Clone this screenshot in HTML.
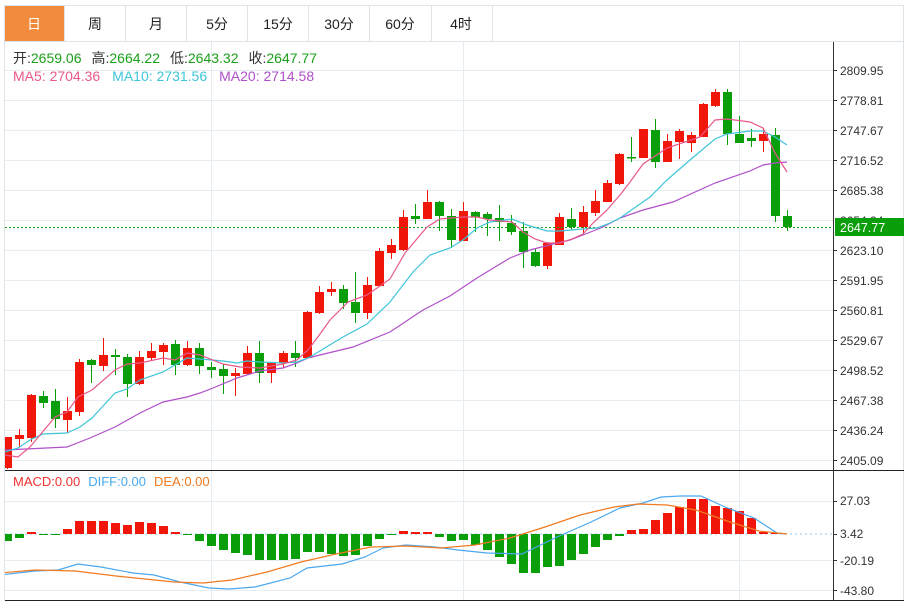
<!DOCTYPE html>
<html><head><meta charset="utf-8"><style>
body{margin:0;background:#fff;width:909px;height:603px;overflow:hidden;font-family:"Liberation Sans","Noto Sans CJK SC",sans-serif}
svg{position:absolute;left:0;top:0}
</style></head><body>
<svg width="909" height="603" viewBox="0 0 909 603" xmlns="http://www.w3.org/2000/svg" font-family="Liberation Sans, Noto Sans CJK SC, sans-serif">
<defs><clipPath id="c"><rect x="5" y="41" width="828" height="428"/></clipPath>
<clipPath id="m"><rect x="5" y="471" width="828" height="129"/></clipPath></defs>
<rect x="4.5" y="5.5" width="899" height="595" fill="none" stroke="#dde3e8"/>
<rect x="5" y="6" width="59" height="35" fill="#f28c3c"/>
<g stroke="#dde3e8"><line x1="64.5" y1="6" x2="64.5" y2="41"/><line x1="125.5" y1="6" x2="125.5" y2="41"/><line x1="186.5" y1="6" x2="186.5" y2="41"/><line x1="247.5" y1="6" x2="247.5" y2="41"/><line x1="308.5" y1="6" x2="308.5" y2="41"/><line x1="369.5" y1="6" x2="369.5" y2="41"/><line x1="431.5" y1="6" x2="431.5" y2="41"/><line x1="492.5" y1="6" x2="492.5" y2="41"/><line x1="5" y1="41.5" x2="904" y2="41.5"/></g>
<g font-size="14" text-anchor="middle" fill="#222"><text x="34" y="29" fill="#fff">日</text><text x="95" y="29">周</text><text x="156" y="29">月</text><text x="217" y="29">5分</text><text x="278" y="29">15分</text><text x="339" y="29">30分</text><text x="400" y="29">60分</text><text x="461" y="29">4时</text></g>
<g stroke="#e6ecf0"><line x1="5" y1="70.5" x2="833" y2="70.5"/><line x1="5" y1="100.5" x2="833" y2="100.5"/><line x1="5" y1="130.5" x2="833" y2="130.5"/><line x1="5" y1="160.5" x2="833" y2="160.5"/><line x1="5" y1="190.5" x2="833" y2="190.5"/><line x1="5" y1="220.5" x2="833" y2="220.5"/><line x1="5" y1="250.5" x2="833" y2="250.5"/><line x1="5" y1="280.5" x2="833" y2="280.5"/><line x1="5" y1="310.5" x2="833" y2="310.5"/><line x1="5" y1="340.5" x2="833" y2="340.5"/><line x1="5" y1="370.5" x2="833" y2="370.5"/><line x1="5" y1="400.5" x2="833" y2="400.5"/><line x1="5" y1="430.5" x2="833" y2="430.5"/><line x1="5" y1="460.5" x2="833" y2="460.5"/>
<line x1="211.5" y1="42" x2="211.5" y2="600"/><line x1="463.5" y1="42" x2="463.5" y2="600"/><line x1="739.5" y1="42" x2="739.5" y2="600"/>
<line x1="5" y1="501.5" x2="833" y2="501.5"/><line x1="5" y1="560.5" x2="833" y2="560.5"/><line x1="5" y1="590.5" x2="833" y2="590.5"/></g>
<g font-size="14"><text x="13" y="63"><tspan fill="#333">开:</tspan><tspan fill="#1aa01a">2659.06</tspan><tspan fill="#333" dx="10">高:</tspan><tspan fill="#1aa01a">2664.22</tspan><tspan fill="#333" dx="10">低:</tspan><tspan fill="#1aa01a">2643.32</tspan><tspan fill="#333" dx="10">收:</tspan><tspan fill="#1aa01a">2647.77</tspan></text>
<text x="13" y="81"><tspan fill="#e8588a">MA5: 2704.36</tspan><tspan fill="#3ec5d8" dx="12">MA10: 2731.56</tspan><tspan fill="#b050c8" dx="12">MA20: 2714.58</tspan></text></g>
<g clip-path="url(#c)" id="k"></g>
<line x1="833.5" y1="42" x2="833.5" y2="601" stroke="#333"/>
<line x1="5" y1="470.5" x2="904" y2="470.5" stroke="#222"/>
<line x1="5" y1="600.5" x2="904" y2="600.5" stroke="#222"/>
<g font-size="12" fill="#333"><text x="840" y="75">2809.95</text><text x="840" y="105">2778.81</text><text x="840" y="135">2747.67</text><text x="840" y="165">2716.52</text><text x="840" y="195">2685.38</text><text x="840" y="225">2654.24</text><text x="840" y="255">2623.10</text><text x="840" y="285">2591.95</text><text x="840" y="315">2560.81</text><text x="840" y="345">2529.67</text><text x="840" y="375">2498.52</text><text x="840" y="405">2467.38</text><text x="840" y="435">2436.24</text><text x="840" y="465">2405.09</text>
<text x="840" y="505">27.03</text><text x="840" y="538">3.42</text><text x="840" y="565">-20.19</text><text x="840" y="595">-43.80</text></g>
<g stroke="#333"><line x1="833" y1="70.5" x2="837" y2="70.5"/><line x1="833" y1="100.5" x2="837" y2="100.5"/><line x1="833" y1="130.5" x2="837" y2="130.5"/><line x1="833" y1="160.5" x2="837" y2="160.5"/><line x1="833" y1="190.5" x2="837" y2="190.5"/><line x1="833" y1="250.5" x2="837" y2="250.5"/><line x1="833" y1="280.5" x2="837" y2="280.5"/><line x1="833" y1="310.5" x2="837" y2="310.5"/><line x1="833" y1="340.5" x2="837" y2="340.5"/><line x1="833" y1="370.5" x2="837" y2="370.5"/><line x1="833" y1="400.5" x2="837" y2="400.5"/><line x1="833" y1="430.5" x2="837" y2="430.5"/><line x1="833" y1="460.5" x2="837" y2="460.5"/><line x1="833" y1="501.5" x2="837" y2="501.5"/><line x1="833" y1="534.5" x2="837" y2="534.5"/><line x1="833" y1="560.5" x2="837" y2="560.5"/><line x1="833" y1="590.5" x2="837" y2="590.5"/></g>
<line x1="5" y1="227.5" x2="833" y2="227.5" stroke="#1aa01a" stroke-dasharray="2,2"/>
<rect x="835" y="218" width="69" height="18" fill="#0a9e0a"/>
<text x="840" y="232" font-size="12.5" fill="#fff">2647.77</text>
<text x="13" y="486" font-size="13"><tspan fill="#f03030">MACD:0.00</tspan><tspan fill="#4aa8f0" dx="8">DIFF:0.00</tspan><tspan fill="#f07a20" dx="8">DEA:0.00</tspan></text>
<line x1="5" y1="534" x2="833" y2="534" stroke="#8cc8ee" stroke-dasharray="2,3"/>
<g clip-path="url(#m)" id="mb"></g>
<g clip-path="url(#m)" fill="none" stroke-width="1.2">
<polyline stroke="#4aa8f0" points="0,575 35,571 58,570 78,564 101,567 133,573 154,575 180,582 209,588 229,589 255,587 290,578 307,568 342,564 365,557 383,548 406,545 435,547 458,550 487,553 522,554 557,537 591,522 620,508 643,503 661,497 681,496 701,496 725,507 754,518 777,533 787,534"/>
<polyline stroke="#f07a20" points="0,573 35,570 75,571 116,576 174,582 203,583 232,580 267,572 301,562 336,554 371,547 406,546 441,548 475,545 510,538 545,527 580,515 614,507 638,504 667,505 696,510 730,522 759,531 787,534"/>
</g>
<g clip-path="url(#c)" fill="none" stroke-width="1.2">
<polyline stroke="#b050c8" points="5,450 67,447 90,438 115,427 140,413 163,402 187,397 200,393 213,388 237,378 260,371 283,368 297,363 308,358 320,355 353,347 390,332 423,310 450,296 477,278 510,258 530,250 557,243 570,240 583,235 603,227 620,218 643,210 673,202 715,183 750,171 763,165 775,163 787,162"/>
<polyline stroke="#3ec5d8" points="5,452 18,448 30,440 43,434 67,433 80,427 92,418 115,393 127,389 140,380 163,372 175,365 187,358 200,359 223,361 237,363 247,361 260,362 283,363 297,362 310,357 343,337 367,324 390,302 413,272 430,255 450,248 463,240 477,228 490,222 512,219 527,225 547,231 560,231 583,229 597,228 610,223 620,218 630,211 650,197 667,180 690,160 715,139 727,134 750,131 763,131 775,137 787,145"/>
<polyline stroke="#e8588a" points="5,455 18,457 30,447 55,417 67,412 78,397 92,390 115,370 127,364 140,363 163,358 175,360 187,353 200,355 223,364 240,367 260,368 283,364 297,360 308,350 320,334 330,320 348,302 367,295 390,279 405,253 427,227 440,219 463,217 477,217 490,220 512,222 523,232 535,239 547,243 560,243 572,239 583,234 593,223 607,210 620,195 630,182 643,164 667,148 700,137 715,120 727,119 750,122 763,128 775,153 787,172"/>
</g>
<script>
(function(){
var R="#f0170a",G="#0a9e0a",ns="http://www.w3.org/2000/svg";
var d=[[7,437,468,437,470,R],[19,435,439,429,447,R],[31,395,438,394,442,R],[43,396,403,391,408,G],[55,401,419,389,428,G],[67,411,420,397,433,R],[79,362,412,359,416,R],[91,360,365,359,383,G],[103,355,366,338,371,R],[115,355,357,349,375,G],[127,357,384,354,397,G],[139,357,384,351,385,R],[151,351,358,343,360,R],[163,345,352,343,365,R],[175,344,365,340,375,G],[187,348,365,341,366,R],[199,348,366,343,374,G],[211,367,370,362,378,G],[223,369,376,364,394,G],[235,373,376,368,396,R],[247,353,374,346,374,R],[259,353,373,341,383,G],[271,363,373,362,383,R],[283,353,363,351,368,R],[295,353,358,341,367,G],[307,312,358,311,358,R],[319,292,313,286,314,R],[331,289,292,282,296,R],[343,289,303,285,309,G],[355,302,313,272,323,G],[367,285,313,277,319,R],[379,251,286,248,287,R],[391,245,253,239,259,R],[403,217,250,210,251,R],[415,216,219,204,224,G],[427,202,219,190,219,R],[439,202,216,201,231,G],[451,216,240,209,248,G],[463,211,241,202,241,R],[475,212,217,211,232,G],[487,214,219,212,236,G],[499,218,222,205,241,G],[511,223,232,215,235,G],[523,231,252,222,268,G],[535,252,266,249,267,G],[547,243,266,242,269,R],[559,217,245,213,245,R],[571,219,227,208,230,G],[583,212,227,206,234,R],[595,201,213,190,216,R],[607,183,202,180,202,R],[619,154,184,153,185,R],[631,157,158,137,162,G],[643,129,158,129,158,R],[655,130,162,119,168,G],[667,141,162,134,162,R],[679,131,142,129,159,R],[691,135,143,132,152,R],[703,104,137,103,137,R],[715,92,106,89,107,R],[727,92,134,89,145,G],[739,134,143,116,143,G],[751,138,141,129,147,G],[763,134,141,128,152,R],[775,135,216,128,222,G],[787,216,227,210,231,G]];
var k=document.getElementById("k");
d.forEach(function(c){
var l=document.createElementNS(ns,"line");l.setAttribute("x1",c[0]+.5);l.setAttribute("x2",c[0]+.5);l.setAttribute("y1",c[3]);l.setAttribute("y2",c[4]);l.setAttribute("stroke",c[5]);k.appendChild(l);
var r=document.createElementNS(ns,"rect");r.setAttribute("x",c[0]-4);r.setAttribute("width",9);r.setAttribute("y",c[1]);r.setAttribute("height",Math.max(1.5,c[2]-c[1]));r.setAttribute("fill",c[5]);k.appendChild(r);});
var m=[541,538,532,535,535,529,521,521,521,523,525,522,523,526,532,534,541,546,550,553,555,560,560,560,559,552,552,554,556,555,546,539,535,531,532,532,537,541,540,545,550,557,564,573,573,567,566,560,554,547,540,536,530,529,520,513,507,499,499,506,508,511,518,532,533];
var mb=document.getElementById("mb");
m.forEach(function(v,i){var x=7+12*i;var r=document.createElementNS(ns,"rect");var up=v<534;r.setAttribute("x",x-4);r.setAttribute("width",9);r.setAttribute("y",up?v:534);r.setAttribute("height",Math.max(1,Math.abs(v-534)));r.setAttribute("fill",up?R:G);mb.appendChild(r);});
})();
</script>
</svg>
</body></html>
